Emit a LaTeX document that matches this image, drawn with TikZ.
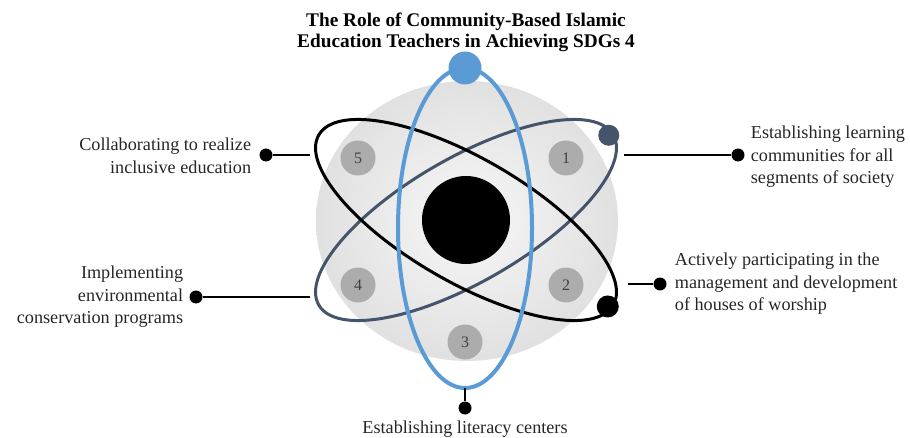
\documentclass[tikz,border=0pt]{standalone}
\usepackage{fontspec}
\setmainfont{Liberation Serif}
\usetikzlibrary{positioning,calc}
\definecolor{atomblue}{RGB}{91,155,213}
\definecolor{slate}{RGB}{68,84,106}
\definecolor{numgray}{RGB}{172,172,172}

\begin{document}
\begin{tikzpicture}[x=1pt,y=1pt,
    num/.style={circle,fill=numgray,minimum size=35pt,inner sep=0pt,text=black!75,
        font=\fontsize{16}{16}\selectfont},
    pin/.style={circle,fill=black,minimum size=13pt,inner sep=0pt},
    lbl/.style={inner sep=2pt,text=black!85,font=\fontsize{18.2}{22.5}\selectfont},
    link/.style={line width=2.5pt}]
    \useasboundingbox (0,0) rectangle (910,437);
    % grey disc behind the atom
    \shade[inner color=gray!6,outer color=gray!24] (467,216) ellipse [x radius=151,y radius=140];
    % tilted orbits
    \begin{scope}[shift={(466,217)},rotate=30]
        \draw[slate,line width=3pt] (0,0) ellipse [x radius=170,y radius=62];
        \node[circle,fill=slate,minimum size=21pt,inner sep=0pt] (sdot) at (166,2) {};
    \end{scope}
    \begin{scope}[shift={(466,217)},rotate=-30]
        \draw[line width=3pt] (0,0) ellipse [x radius=170,y radius=62];
        \node[circle,fill=black,minimum size=22pt,inner sep=0pt] (kdot) at (166,-4) {};
    \end{scope}
    \draw[atomblue,line width=4pt] (465,209) ellipse [x radius=67,y radius=160];
    \node[circle,fill=atomblue,minimum size=33pt,inner sep=0pt] (bdot) at (465,369) {};
    \node[circle,fill=black,minimum size=88pt,inner sep=0pt] (core) at (466,217) {};

    \node[font=\bfseries\fontsize{19.3}{21}\selectfont,align=center] (title) at (466,405)
        {The Role of Community-Based Islamic\\Education Teachers in Achieving SDGs 4};

    % numbered points
    \node[num] (n1) at (566,279) {1};
    \node[num] (n2) at (566,152) {2};
    \node[num] (n3) at (465,95) {3};
    \node[num] (n4) at (358,152) {4};
    \node[num] (n5) at (358,279) {5};

    % 1
    \coordinate (c1) at (624,282);
    \node[pin] (p1) at (738,282) {};
    \draw[link] (c1) -- (p1);
    \node[lbl,align=left,right=4pt of p1,yshift=-2pt] (t1)
        {Establishing learning\\communities for all\\segments of society};
    % 2
    \coordinate (c2) at (628,153);
    \node[pin] (p2) at (660,153) {};
    \draw[link] (c2) -- (p2);
    \node[lbl,align=left,right=6pt of p2] (t2)
        {Actively participating in the\\management and development\\of houses of worship};
    % 3
    \coordinate (c3) at (465,49);
    \node[pin] (p3) at (465,29) {};
    \draw[link] (c3) -- (p3);
    \node[lbl,anchor=base] (t3) at (465,4) {Establishing literacy centers};
    % 4
    \coordinate (c4) at (310,140);
    \node[pin] (p4) at (196,140) {};
    \draw[link] (c4) -- (p4);
    \node[lbl,align=right,left=4pt of p4] (t4)
        {Implementing\\environmental\\conservation programs};
    % 5
    \coordinate (c5) at (310,282);
    \node[pin] (p5) at (266,282) {};
    \draw[link] (c5) -- (p5);
    \node[lbl,align=right,left=6pt of p5,yshift=-1pt] (t5)
        {Collaborating to realize\\inclusive education};
\end{tikzpicture}
\end{document}
